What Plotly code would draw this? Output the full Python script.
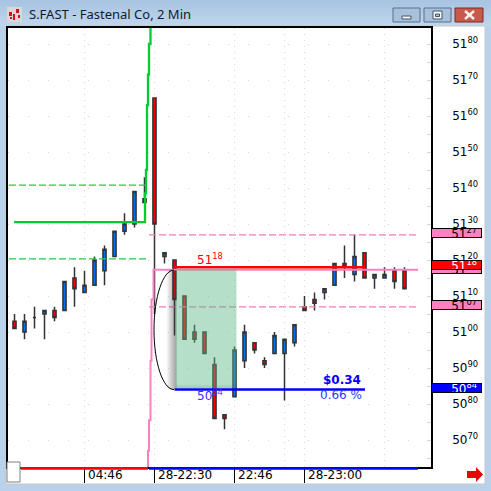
import plotly.graph_objects as go

# candle data, one entry per 2 min bar
opens = [5103, 5100, 5104, 5105, 5106, 5106, 5115, 5111, 5113, 5117, 5121, 5128, 5130, 5137, 5165, 5121, 5120, 5110, 5100, 5100,
         5091, 5077, 5082, 5092, 5097, 5092, 5094, 5094, 5097, 5107, 5109, 5111, 5113, 5119, 5116, 5122, 5115, 5115, 5117, 5117]
highs = [5105, 5105, 5107, 5106, 5107, 5114, 5118, 5117, 5121, 5124, 5128, 5133, 5139, 5143, 5165, 5122, 5120, 5110, 5102, 5100,
         5093, 5077, 5096, 5102, 5097, 5093, 5100, 5098, 5102, 5110, 5111, 5112, 5119, 5124, 5127, 5122, 5116, 5118, 5118, 5118]
lows = [5101, 5098, 5101, 5098, 5103, 5106, 5107, 5111, 5113, 5113, 5121, 5127, 5129, 5136, 5105, 5119, 5099, 5098, 5097, 5094,
        5076, 5073, 5082, 5090, 5094, 5090, 5094, 5081, 5096, 5106, 5106, 5109, 5113, 5115, 5114, 5115, 5112, 5115, 5112, 5112]
closes = [5101, 5103, 5104, 5106, 5104, 5114, 5112, 5113, 5120, 5123, 5128, 5130, 5139, 5136, 5130, 5122, 5109, 5098, 5098, 5094,
          5076, 5076, 5095, 5100, 5095, 5091, 5099, 5098, 5102, 5106, 5108, 5112, 5119, 5118, 5121, 5115, 5116, 5116, 5114, 5112]
bars = list(range(len(opens)))

price_ticks = [5180, 5170, 5160, 5150, 5140, 5130, 5120, 5110, 5100, 5090, 5080, 5070]
time_bars = [7, 14, 22, 29]
time_labels = ["04:46", "28-22:30", "22:46", "28-23:00"]
extra_grid_bars = [27, 37]

# green and pink step lines
green_x = [-0.05, 13.05, 13.05, 13.15, 13.15, 13.25, 13.25, 13.35, 13.35, 13.45, 13.45, 13.6, 13.6]
green_y = [5130.5, 5130.5, 5138.5, 5138.5, 5145, 5145, 5163, 5163, 5171.5, 5171.5, 5180, 5180, 5190]
pink_x = [13.35, 13.35, 13.45, 13.45, 13.6, 13.6, 13.7, 13.7, 13.9, 13.9, 40.35]
pink_y = [5055, 5067, 5067, 5075.5, 5075.5, 5092, 5092, 5109, 5109, 5117.3, 5117.3]

support_high = 5118
support_low = 5084
dash_green = [5140.8, 5120.3]
dash_pink = [5127, 5107]
badges = [(5127, "#ff80c0", "black"), (5117, "#ff80c0", "black"), (5118, "#ff0000", "white"),
          (5107, "#ff80c0", "black"), (5084, "#0000ff", "white")]

W, H = 491, 491
L, T, R, B = 8, 28, 431, 467
PRICE_TOP = 5180 + (44 - T) / 3.6
PRICE_BOT = 5180 - (B - 44) / 3.6
FONT = "DejaVu Sans"


def px(v):
    return (v - L) / (R - L)


def py(v):
    return 1 - (v - T) / (B - T)


def bx(v):
    return (v - 14.5) / 10


def rect(x0, y0, x1, y1, fill, line=None, layer="above", lw=1):
    return dict(type="rect", xref="paper", yref="paper", x0=px(x0), x1=px(x1), y0=py(y0), y1=py(y1),
                fillcolor=fill, line=dict(color=line or "rgba(0,0,0,0)", width=lw if line else 0), layer=layer)


fig = go.Figure()

fig.add_trace(go.Scatter(x=green_x, y=green_y, mode="lines", line=dict(color="#00cc33", width=2.3), hoverinfo="skip"))
fig.add_trace(go.Scatter(x=pink_x, y=pink_y, mode="lines", line=dict(color="#ff80c0", width=2), hoverinfo="skip"))
for level in dash_green:
    fig.add_trace(go.Scatter(x=[-0.55, 13.35], y=[level, level], mode="lines",
                             line=dict(color="#22cc44", width=1.2, dash="7px,3px"), hoverinfo="skip"))
for level in dash_pink:
    fig.add_trace(go.Scatter(x=[13.45, 40.35], y=[level, level], mode="lines",
                             line=dict(color="#ee80b0", width=1.2, dash="7px,3px"), hoverinfo="skip"))

fig.add_trace(go.Candlestick(
    x=bars, open=opens, high=highs, low=lows, close=closes,
    increasing=dict(fillcolor="#0070f0", line=dict(color="#333333", width=1.5)),
    decreasing=dict(fillcolor="#ff0000", line=dict(color="#333333", width=1.5)),
    hoverinfo="skip",
))

fig.add_trace(go.Scatter(x=[16, 34.95], y=[support_high, support_high], mode="lines",
                         line=dict(color="#ff0000", width=2.5), hoverinfo="skip"))
fig.add_trace(go.Scatter(x=[16, 35.05], y=[support_low, support_low], mode="lines",
                         line=dict(color="#0000ff", width=2.5), hoverinfo="skip"))

shapes = []
# window chrome
for i in range(26):
    t = i / 25
    col = "rgb(%d,%d,%d)" % (168 + 24 * t, 196 + 18 * t, 226 + 10 * t)
    shapes.append(rect(0, i, W, i + 1, col, layer="below"))
shapes.append(rect(6, 26, 485, 484, "white", "#c8c8c8", layer="below"))
# title bar icon
shapes.append(rect(7, 7, 22, 22, "#d8d8d8", layer="below"))
for a, b, c, d in [(9, 12, 12, 16), (13, 14, 15, 20), (16, 9, 19, 13), (18, 15, 20, 18), (10, 17, 12, 19)]:
    shapes.append(rect(a, b, c, d, "#cc1122", layer="below"))
# title bar buttons
for a, b, col, edge in [(393, 420, "#a8c0da", "#557090"), (424, 451, "#a8c0da", "#557090"), (455, 483, "#c85a4c", "#7a2a24")]:
    shapes.append(rect(a, 8, b, 22, col, edge, layer="below"))
shapes.append(rect(402, 16, 411, 19, "#f4f8fc", "#445566", layer="below"))
shapes.append(rect(433, 11, 442, 19, "#f4f8fc", "#445566", layer="below"))
shapes.append(rect(435.5, 14, 439.5, 16.5, "#a8c0da", "#445566", layer="below"))
for x0, x1 in [(465, 474), (474, 465)]:
    shapes.append(dict(type="line", xref="paper", yref="paper", x0=px(x0), x1=px(x1), y0=py(11), y1=py(19),
                       line=dict(color="#f4f0ee", width=2.5), layer="below"))

# soft shadow left of the green rectangle, then the rectangle itself
for i in range(10):
    shapes.append(dict(type="rect", xref="x", yref="paper", x0=bx(166.5 + i), x1=bx(167.5 + i), y0=py(389), y1=py(270),
                       fillcolor="rgba(60,60,60,%.2f)" % (0.03 + 0.055 * i), line=dict(width=0), layer="above"))
for i in range(4):
    shapes.append(dict(type="rect", xref="x", yref="paper", x0=bx(176), x1=bx(237), y0=py(388.5 - i), y1=py(387.5 - i),
                       fillcolor="rgba(60,60,60,%.2f)" % (0.2 - 0.05 * i), line=dict(width=0), layer="above"))
shapes.append(dict(type="rect", xref="x", yref="paper", x0=bx(176), x1=bx(236.5), y0=py(388), y1=py(268.5),
                   fillcolor="rgba(90,185,135,0.45)", line=dict(width=0), layer="above"))

# black half ellipse between the two levels
xr, xl = 15.95, 13.95
mid = (support_high - 0.8 + support_low) / 2
ry = (support_high - 0.8 - support_low) / 2
k = 0.5523
shapes.append(dict(type="path", xref="x", yref="y", layer="above",
                   path=f"M {xr},{mid + ry} C {xr - k * (xr - xl)},{mid + ry} {xl},{mid + k * ry} {xl},{mid} "
                        f"C {xl},{mid - k * ry} {xr - k * (xr - xl)},{mid - ry} {xr},{mid - ry}",
                   line=dict(color="black", width=1)))

# range bar under the plot
shapes.append(rect(21, 467, 148, 469.7, "#ff0000"))
shapes.append(rect(149, 467, 418, 469.7, "#0000ff"))
shapes.append(rect(7, 462, 20, 482, "white", "#808080"))
# red arrow bottom right
ax = [467, 476, 476, 483, 476, 476, 467, 467]
ay = [471, 471, 467, 474.5, 482, 478, 478, 471]
arrow = "M " + " L ".join(f"{px(a)},{py(b)}" for a, b in zip(ax, ay)) + " Z"
shapes.append(dict(type="path", xref="paper", yref="paper", path=arrow, fillcolor="#ee0000", line=dict(width=0)))

annotations = [
    dict(text="S.FAST - Fastenal Co, 2 Min", x=px(27), y=py(14.5), xref="paper", yref="paper", xanchor="left",
         yanchor="middle", showarrow=False, font=dict(family="Noto Sans", size=13, color="#101c30")),
    dict(text="51<sup>18</sup>", x=px(195), y=py(259), xref="paper", yref="paper", xanchor="left", yanchor="middle",
         showarrow=False, font=dict(family=FONT, size=12, color="#ff0000")),
    dict(text="50<sup>84</sup>", x=px(195), y=py(395), xref="paper", yref="paper", xanchor="left", yanchor="middle",
         showarrow=False, font=dict(family=FONT, size=12, color="#3333ff")),
    dict(text="<b>$0.34</b>", x=px(363), y=py(380), xref="paper", yref="paper", xanchor="right", yanchor="middle",
         showarrow=False, font=dict(family=FONT, size=12, color="#0000ff")),
    dict(text="0.66 %", x=px(364), y=py(395), xref="paper", yref="paper", xanchor="right", yanchor="middle",
         showarrow=False, font=dict(family=FONT, size=12, color="#3333ff")),
]
for b, label in zip(time_bars, time_labels):
    annotations.append(dict(text=label, x=b, y=py(474.5), xref="x", yref="paper", xanchor="left", yanchor="middle",
                            xshift=1, showarrow=False, font=dict(family=FONT, size=12, color="black")))
for level, fill, ink in badges:
    s = str(level)
    annotations.append(dict(text=f"{s[:2]}<sup>{s[2:]}</sup>&nbsp;", x=px(456.5), xref="paper", y=level, yref="y",
                            xanchor="center", yanchor="middle", yshift=2, showarrow=False, width=49, height=8,
                            align="right", borderpad=0, bgcolor=fill, bordercolor="black", borderwidth=1,
                            font=dict(family=FONT, size=12, color=ink)))

fig.update_layout(
    width=W, height=H,
    margin=dict(l=L, t=T, r=W - R, b=H - B, pad=0, autoexpand=False),
    paper_bgcolor="#b9d1ea",
    plot_bgcolor="white",
    showlegend=False,
    boxgap=0.55,
    shapes=shapes,
    annotations=annotations,
    xaxis=dict(
        range=[bx(L), bx(R)], tickmode="array", tickvals=time_bars, ticktext=[""] * 4, ticks="outside", ticklen=14,
        tickcolor="black", tickwidth=1, showgrid=True, gridcolor="#d8d8d8", griddash="1px,5px", zeroline=False,
        showline=True, linecolor="black", linewidth=1.5, mirror=True, rangeslider=dict(visible=False),
        minor=dict(tickmode="array", tickvals=extra_grid_bars, showgrid=True, gridcolor="#d8d8d8", griddash="1px,5px",
                   ticks=""),
    ),
    yaxis=dict(
        range=[PRICE_BOT, PRICE_TOP], side="right", tickmode="array", tickvals=price_ticks,
        ticktext=[f"{str(p)[:2]}<sup>{str(p)[2:]}</sup>" for p in price_ticks], ticks="", ticklabelstandoff=17,
        ticklabelshift=0, tickfont=dict(family=FONT, size=12, color="black"), showgrid=True, gridcolor="#d8d8d8",
        griddash="1px,19px", zeroline=False, showline=True, linecolor="black", linewidth=1.5, mirror=True,
        minor=dict(dtick=5, ticks="inside", ticklen=4, tickcolor="#d8d8d8", showgrid=False),
    ),
)

fig.write_html("out.html", config=dict(displayModeBar=False), post_script="document.body.style.margin='0';")
